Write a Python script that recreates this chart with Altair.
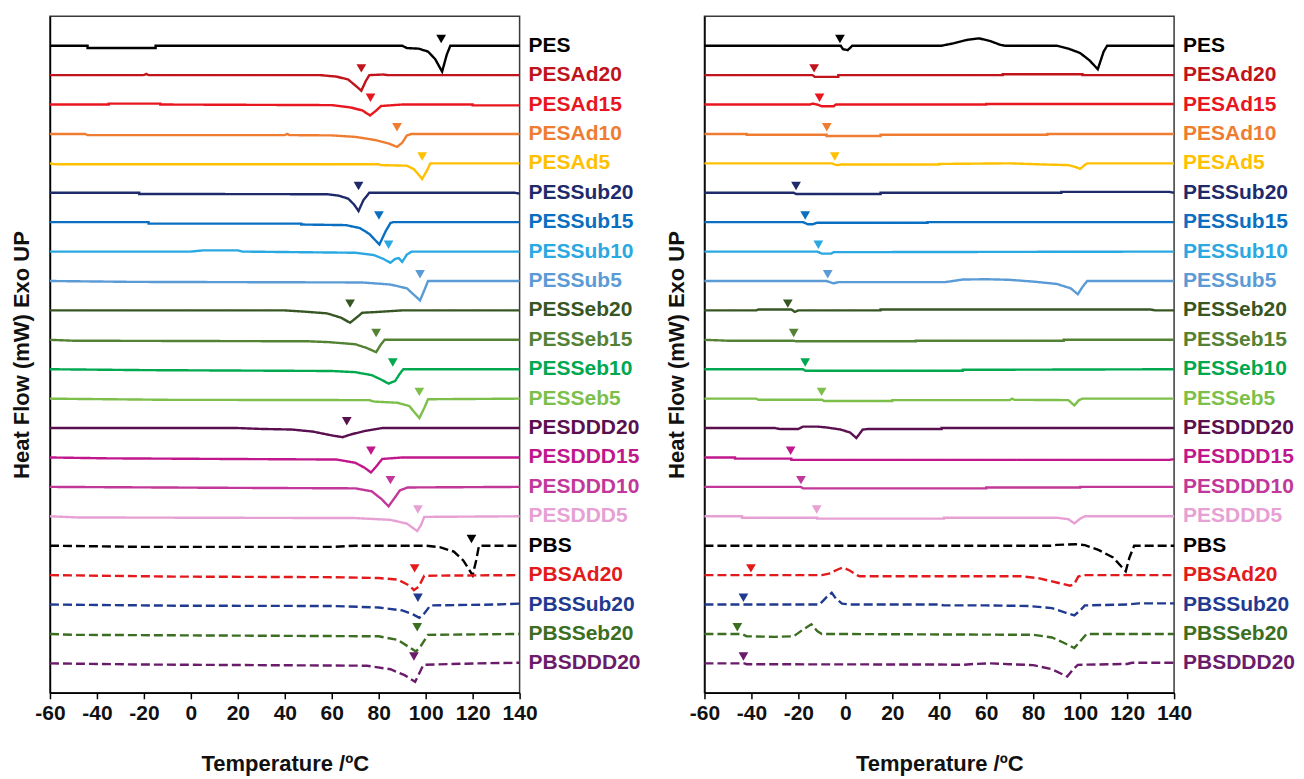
import altair as alt
import pandas as pd

names = ["PES", "PESAd20", "PESAd15", "PESAd10", "PESAd5",
         "PESSub20", "PESSub15", "PESSub10", "PESSub5",
         "PESSeb20", "PESSeb15", "PESSeb10", "PESSeb5",
         "PESDDD20", "PESDDD15", "PESDDD10", "PESDDD5",
         "PBS", "PBSAd20", "PBSSub20", "PBSSeb20", "PBSDDD20"]
colors = ["#000000", "#C0131B", "#E8161E", "#EE7D31", "#FFC000",
          "#1F2A6B", "#0A6FC0", "#2AA8E2", "#5B9BD5",
          "#375623", "#548235", "#00A84F", "#7CBF4A",
          "#5A0F4F", "#C0188C", "#C2389A", "#E7A0D3",
          "#000000", "#E31A1C", "#1F3A8F", "#3C6E22", "#6A1B6A"]
dashed = [False] * 17 + [True] * 5

# onset (Tg) markers, degC ; None = no marker
left_onset = [106.6, 72.6, 76.5, 87.8, 98.5, 71.4, 80.1, 84.2, 97.6, 67.8, 78.9,
              86.0, 97.3, 66.4, 76.7, 85.0, 96.7, 119.5, 95.3, 96.7, 96.4, 95.0]
right_onset = [-2.3, -13.3, -11.0, -7.9, -4.5, -21.0, -17.1, -11.5, -7.5, -24.5, -22.0,
               -17.1, -10.1, None, -23.3, -18.9, -12.2, None, -40.2, -43.4, -46.0, -43.4]

# heat-flow traces (T degC, signal in units of curve spacing, exo up)
left_traces = {
    "PES": [(-60, 0), (-44, 0), (-44, -0.08), (-15, -0.08), (-15, 0), (90, 0), (92, -0.08), (97, -0.1),
            (101, -0.2), (104, -0.45), (107, -0.88), (109, -0.3), (110.5, 0), (140, 0)],
    "PESAd20": [(-60, 0), (-20, 0), (-19, 0.04), (-18, 0), (55, 0), (62, -0.05), (67, -0.15), (70, -0.35),
                (72.6, -0.53), (74.5, -0.2), (76, 0), (82, 0.02), (84, 0), (140, 0)],
    "PESAd15": [(-60, 0), (-35, 0), (-35, 0.03), (-13, 0.03), (-13, 0), (60, -0.02), (68, -0.1), (73, -0.2),
                (76.3, -0.37), (79, -0.2), (81, -0.05), (90, 0), (120, 0), (120, -0.03), (140, -0.03)],
    "PESAd10": [(-60, 0), (-45, 0), (-44, -0.04), (40, -0.04), (41, 0), (42, -0.04), (60, -0.05), (70, -0.1),
                (78, -0.2), (84, -0.32), (87.8, -0.44), (90, -0.3), (92, -0.05), (94, 0), (140, 0)],
    "PESAd5": [(-60, 0), (-58, -0.03), (80, -0.03), (81, -0.06), (92, -0.08), (95, -0.2), (98.5, -0.53),
               (100.5, -0.25), (102, 0), (140, 0)],
    "PESSub20": [(-60, 0), (-22, 0), (-22, -0.04), (58, -0.05), (63, -0.1), (67, -0.2), (69.5, -0.4),
                 (71.4, -0.62), (73.5, -0.25), (76, 0), (138, 0), (140, -0.03)],
    "PESSub15": [(-60, 0), (-18, 0), (-18, -0.05), (47, -0.05), (47, -0.08), (66, -0.1), (72, -0.2),
                 (76, -0.4), (80.3, -0.76), (83, -0.3), (85, -0.03), (86, 0), (140, 0)],
    "PESSub10": [(-60, 0), (0, 0), (5, 0.04), (20, 0.04), (22, 0), (70, -0.04), (78, -0.12), (82, -0.25),
                 (85, -0.38), (87, -0.25), (88.5, -0.22), (90, -0.35), (92, -0.1), (94, 0), (140, 0)],
    "PESSub5": [(-60, 0), (-25, -0.03), (73, -0.05), (85, -0.12), (92, -0.25), (97.6, -0.66),
                (99.5, -0.3), (101, 0), (140, 0)],
    "PESSeb20": [(-60, 0), (40, 0), (48, -0.04), (58, -0.1), (64, -0.25), (67.8, -0.42), (70, -0.28),
                 (73, -0.08), (80, -0.05), (90, 0), (140, 0)],
    "PESSeb15": [(-60, 0), (-50, -0.03), (50, -0.05), (59, -0.08), (70, -0.15), (75, -0.28), (78.9, -0.42),
                 (81, -0.15), (82.5, 0), (140, 0)],
    "PESSeb10": [(-60, 0), (-20, -0.03), (60, -0.06), (70, -0.1), (77, -0.2), (81, -0.35), (84.2, -0.49),
                 (87, -0.4), (89, -0.15), (90.5, 0), (140, 0)],
    "PESSeb5": [(-60, 0), (-10, -0.04), (76, -0.05), (78, -0.1), (88, -0.14), (93, -0.25), (97.3, -0.66),
                (99.5, -0.3), (101, -0.02), (140, 0)],
    "PESDDD20": [(-60, 0), (20, 0), (30, -0.03), (43, -0.05), (52, -0.12), (60, -0.25), (64.6, -0.31),
                 (68, -0.22), (74, -0.1), (81.5, 0), (140, 0)],
    "PESDDD15": [(-60, 0), (-35, -0.03), (62, -0.07), (70, -0.18), (74, -0.35), (76.7, -0.51), (79, -0.3),
                 (81.5, -0.05), (90, 0), (140, 0)],
    "PESDDD10": [(-60, 0), (10, -0.03), (70, -0.05), (77, -0.15), (81, -0.4), (84.2, -0.66), (87, -0.35),
                 (89, -0.12), (92.3, -0.02), (140, 0)],
    "PESDDD5": [(-60, 0), (-48, -0.04), (70, -0.06), (85, -0.12), (92, -0.25), (96.4, -0.5), (98, -0.3),
                (99.4, -0.02), (140, 0)],
    "PBS": [(-60, 0), (-20, -0.04), (60, -0.04), (70, 0), (100, 0), (106, -0.05), (112, -0.2),
            (116, -0.5), (120, -1.0), (121.5, -0.5), (122.7, 0), (140, 0)],
    "PBSAd20": [(-60, 0), (-7, -0.05), (60, -0.07), (80, -0.1), (88, -0.15), (93, -0.35), (95, -0.51),
                (97, -0.4), (99.4, -0.02), (140, 0)],
    "PBSSub20": [(-60, 0), (-5, -0.04), (60, -0.05), (80, -0.1), (90, -0.2), (95, -0.35), (97.3, -0.45),
                 (99, -0.35), (102, -0.03), (130, 0), (140, 0.03)],
    "PBSSeb20": [(-60, 0), (-50, -0.03), (80, -0.08), (88, -0.2), (93, -0.45), (95.9, -0.6), (98, -0.4),
                 (101, -0.03), (140, 0)],
    "PBSDDD20": [(-60, 0), (-20, -0.04), (75, -0.08), (85, -0.2), (91, -0.4), (95.5, -0.63), (97.5, -0.3),
                 (99, -0.05), (122, 0), (140, 0.02)],
}

right_traces = {
    "PES": [(-60, 0), (-2, 0), (-1, -0.12), (1, -0.15), (3, 0), (41, 0), (46, 0.08), (52, 0.2), (57, 0.25),
            (62, 0.15), (66, 0.03), (68, 0), (90, 0), (95, -0.1), (100, -0.25), (104, -0.5), (107.5, -0.8),
            (110, -0.2), (111.5, 0), (140, 0)],
    "PESAd20": [(-60, 0), (-14, 0), (-13, -0.06), (-3, -0.06), (-3, 0), (67, 0), (67, 0.03), (101, 0.03),
                (101, 0), (140, 0)],
    "PESAd15": [(-60, 0), (-15, 0), (-14, 0.03), (-12, 0), (-10, -0.06), (-5, -0.06), (-4, 0), (60, 0),
                (60, 0.02), (140, 0.02)],
    "PESAd10": [(-60, 0), (-42, 0), (-42, -0.03), (-8, -0.03), (-8, -0.07), (15, -0.07), (15, -0.03),
                (86, -0.03), (86, 0), (140, 0)],
    "PESAd5": [(-60, 0), (-6, 0), (-4, -0.05), (-3, -0.06), (-2, -0.04), (40, -0.04), (40, -0.02), (70, 0),
               (85, -0.04), (95, -0.06), (99, -0.15), (100, -0.19), (102, -0.05), (103, 0), (140, 0)],
    "PESSub20": [(-60, 0), (-22, 0), (-21, -0.04), (15, -0.04), (15, 0), (92, 0), (92, 0.03), (138, 0.03),
                 (140, 0)],
    "PESSub15": [(-60, 0), (-18, 0), (-16, -0.07), (-14, -0.07), (-12, -0.02), (35, -0.02), (35, 0),
                 (140, 0)],
    "PESSub10": [(-60, 0), (-12, 0), (-10, -0.07), (-6, -0.07), (-5, -0.02), (140, 0)],
    "PESSub5": [(-60, 0), (-8, 0), (-5, -0.08), (-3, -0.04), (42, -0.04), (45, -0.01), (50, 0.05),
                (60, 0.06), (70, 0.04), (80, -0.02), (90, -0.1), (96, -0.25), (99, -0.45), (101, -0.2),
                (103, 0), (140, 0)],
    "PESSeb20": [(-60, 0), (-38, 0), (-37, 0.03), (-23, 0.03), (-21.5, -0.05), (-20, 0), (15, 0),
                 (15, 0.03), (130, 0.03), (132, 0), (140, 0)],
    "PESSeb15": [(-60, 0), (-50, -0.03), (-22, -0.03), (-21, -0.05), (30, -0.05), (30, -0.03), (93, -0.03),
                 (93, 0), (140, 0)],
    "PESSeb10": [(-60, 0), (-18, 0), (-17, -0.05), (50, -0.05), (50, -0.02), (140, 0)],
    "PESSeb5": [(-60, 0), (-38, 0), (-37, -0.04), (-10, -0.04), (-9, -0.08), (20, -0.08), (20, -0.05),
                (70, -0.05), (71, 0), (72, -0.04), (95, -0.05), (97.5, -0.23), (99.5, -0.05), (101, 0),
                (140, 0)],
    "PESDDD20": [(-60, 0), (-30, 0), (-28, -0.03), (-20, -0.03), (-18, 0.05), (-12, 0.05), (-8, 0.02),
                 (-2, -0.05), (2, -0.15), (4.7, -0.34), (7.4, -0.05), (10, -0.03), (41, -0.03), (41, 0),
                 (140, 0)],
    "PESDDD15": [(-60, 0), (-47, 0), (-47, -0.04), (-23, -0.04), (-23, -0.08), (138, -0.08), (140, -0.06)],
    "PESDDD10": [(-60, 0), (-19, 0), (-18, -0.05), (60, -0.05), (60, -0.02), (100, -0.02), (100, 0),
                 (140, 0)],
    "PESDDD5": [(-60, 0), (-44, 0), (-44, -0.05), (-12, -0.05), (-12, -0.08), (42, -0.08), (42, -0.05),
                (90, -0.05), (95, -0.1), (97.5, -0.24), (100, -0.08), (102, 0), (140, 0)],
    "PBS": [(-60, 0), (88, 0), (90, 0.03), (98, 0.05), (102, 0.02), (108, -0.15), (114, -0.4),
            (119.4, -0.87), (121, -0.4), (123, 0), (140, 0)],
    "PBSAd20": [(-60, 0), (-10, 0), (-7, 0.05), (-3, 0.2), (-1, 0.26), (2, 0.15), (5, 0), (6, -0.04),
                (75, -0.04), (82, -0.1), (90, -0.25), (95.7, -0.36), (97.5, -0.3), (99.2, -0.05), (101, 0),
                (140, 0)],
    "PBSSub20": [(-60, 0), (-11, 0), (-8, 0.25), (-5.8, 0.4), (-4, 0.2), (-1.4, 0.03), (2, 0), (40, 0),
                 (42, -0.03), (60, -0.03), (78, -0.05), (88, -0.12), (94, -0.28), (97.5, -0.37), (100, -0.2),
                 (102, -0.03), (120, 0), (125, 0.04), (140, 0.04)],
    "PBSSeb20": [(-60, 0), (-44, 0), (-42, -0.08), (-30, -0.1), (-22, -0.08), (-18, 0.15), (-14.5, 0.33),
                 (-12, 0.1), (-10, 0), (80, -0.03), (88, -0.12), (93, -0.3), (97.5, -0.48), (100, -0.25),
                 (102.7, 0), (140, 0)],
    "PBSDDD20": [(-60, 0), (-43, 0), (-42, -0.03), (40, -0.04), (50, -0.05), (55, -0.02), (62, 0),
                 (70, -0.03), (80, -0.06), (88, -0.2), (94.5, -0.45), (97, -0.2), (99, -0.05), (120, -0.02),
                 (122, 0.02), (140, 0.02)],
}

x_ticks = [-60, -40, -20, 0, 20, 40, 60, 80, 100, 120, 140]
FONT = "Liberation Sans"
W, H = 470, 677

color_scale = alt.Scale(domain=names, range=colors)
x_scale = alt.Scale(domain=[-60, 140], nice=False)
y_scale = alt.Scale(domain=[-1, 22], nice=False, zero=False)
x_axis = alt.Axis(values=x_ticks, title="Temperature /ºC", grid=False, tickSize=6,
                  labelPadding=4, titlePadding=30, labelOverlap=False, labelFlush=False,
                  labelExpr="'' + datum.value")
y_axis = alt.Axis(title="Heat Flow (mW) Exo UP", labels=False, ticks=False, grid=False,
                  titlePadding=16)


def panel(traces, onsets):
    rows = []
    for i, n in enumerate(names):
        off = 21 - i
        for j, (t, v) in enumerate(traces[n]):
            rows.append({"name": n, "T": t, "y": off + v, "ord": j,
                         "style": "dashed" if dashed[i] else "solid"})
    df = pd.DataFrame(rows)
    marks = pd.DataFrame([{"name": n, "T": onsets[i], "y": 21 - i + 0.23}
                          for i, n in enumerate(names) if onsets[i] is not None])
    labels = pd.DataFrame([{"name": n, "T": 140, "y": 21 - i} for i, n in enumerate(names)])

    X = alt.X("T:Q", scale=x_scale, axis=x_axis)
    Y = alt.Y("y:Q", scale=y_scale, axis=y_axis)
    C = alt.Color("name:N", scale=color_scale, legend=None)

    lines = alt.Chart(df).mark_line(strokeWidth=2.4).encode(
        x=X, y=Y, color=C, order="ord:Q",
        strokeDash=alt.StrokeDash("style:N", scale=alt.Scale(domain=["solid", "dashed"],
                                                               range=[[1, 0], [9, 4]]), legend=None))
    tri = alt.Chart(marks).mark_point(shape="triangle-down", filled=True, size=95, opacity=1).encode(
        x=X, y=Y, color=C)
    txt = alt.Chart(labels).mark_text(align="left", baseline="middle", dx=9, fontSize=21,
                                      fontWeight="bold", font=FONT).encode(
        x=X, y=Y, color=C, text="name:N")
    return alt.layer(lines, tri, txt).properties(width=W, height=H)


chart = alt.hconcat(panel(left_traces, left_onset), panel(right_traces, right_onset),
                    spacing=185, bounds="flush").configure(
    padding={"left": 2, "top": 7, "right": 0, "bottom": 0},
    font=FONT,
).configure_view(
    stroke="#3a3a3a", strokeWidth=1.5
).configure_axis(
    domainColor="#000000", domainWidth=1.5, tickColor="#000000", tickWidth=1.5,
    labelFont=FONT, labelFontSize=21, labelFontWeight="bold", labelColor="#111111",
    titleFont=FONT, titleFontSize=22, titleFontWeight="bold", titleColor="#111111"
)

chart.save("out.html", embed_options={"renderer": "svg", "actions": False})
